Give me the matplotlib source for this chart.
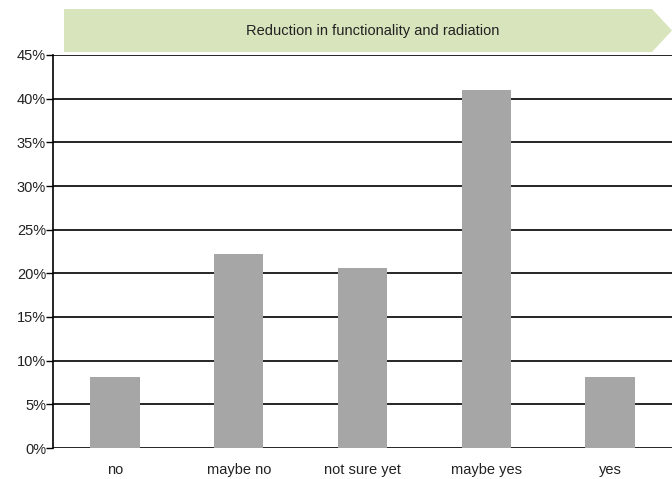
import matplotlib.pyplot as plt
from matplotlib.patches import Polygon
import numpy as np

plt.rcParams['font.family'] = ['Liberation Sans', 'DejaVu Sans']

categories = ["no", "maybe no", "not sure yet", "maybe yes", "yes"]
shares = [8.1, 22.2, 20.6, 41.0, 8.1]  # percent of answers
title = "Reduction in functionality and radiation"

W, H = 672, 479
fig = plt.figure(figsize=(W / 100, H / 100), dpi=100)
ax = fig.add_axes([53 / W, (H - 448) / H, (W - 53) / W, (448 - 55) / H])

x = np.arange(len(categories))
ax.bar(x, shares, width=0.4, color="#a6a6a6", zorder=3)

ax.set_xlim(-0.5, len(categories) - 0.5)
ax.set_ylim(0, 45)
yt = np.arange(0, 50, 5)
ax.set_yticks(yt)
ax.set_yticklabels([f"{v}%" for v in yt], fontsize=10.5, color="#222222")
ax.set_xticks(x)
ax.set_xticklabels(categories, fontsize=10.5, color="#222222")
ax.tick_params(axis="x", length=0, pad=11)
ax.tick_params(axis="y", direction="out", length=5, width=1, pad=0)

for v in yt:
    ax.axhline(v, color="black", lw=1.2, zorder=2)

for s in ["top", "right", "bottom"]:
    ax.spines[s].set_visible(False)
ax.spines["left"].set_linewidth(1.2)

# arrow-shaped banner above the plot
def fx(px):
    return px / W

def fy(py):
    return (H - py) / H

banner = Polygon([(fx(64), fy(9)), (fx(652), fy(9)), (fx(672), fy(30.5)),
                  (fx(652), fy(52)), (fx(64), fy(52))],
                 closed=True, transform=fig.transFigure,
                 facecolor="#d8e4bc", edgecolor="none")
fig.patches.append(banner)
fig.text(fx(373), fy(31), title, ha="center", va="center", fontsize=10.5, color="#222222")

fig.savefig("out.png", dpi=100)
